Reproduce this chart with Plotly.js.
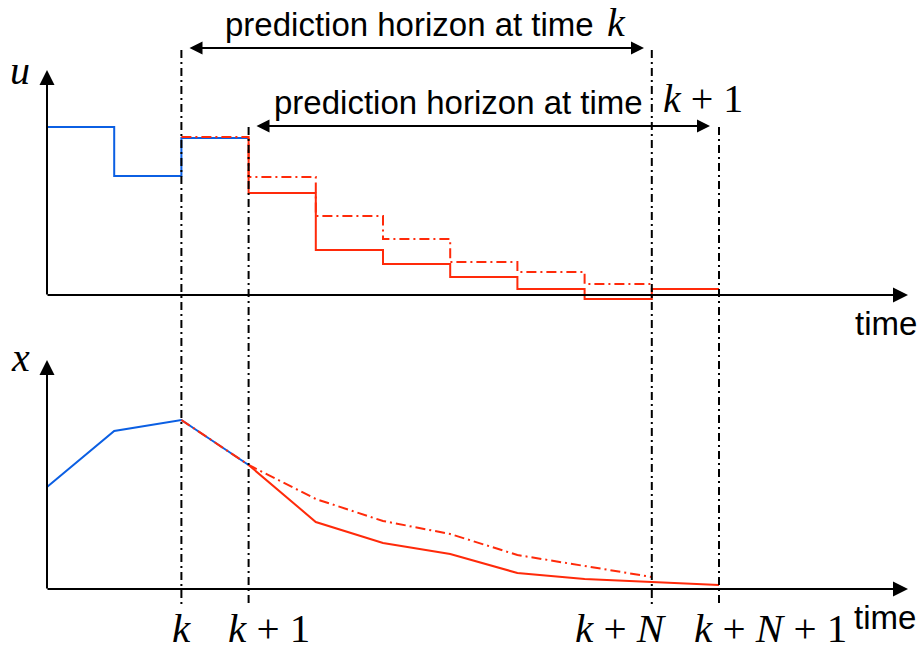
<!DOCTYPE html>
<html>
<head>
<meta charset="utf-8">
<script src="https://cdn.plot.ly/plotly-3.0.1.min.js"></script>
<style>html,body{margin:0;padding:0;background:#fff}#chart{width:918px;height:650px}</style>
</head>
<body>
<div id="chart"></div>
<script>
// ---- data (time index: k = 2) ----
const uAppliedStart = [0, 1, 2];
const uApplied = [16.8, 11.9, 15.7];            // applied input (blue)
const uPredKStart = [2, 3, 4, 5, 6, 7, 8];
const uPredK = [15.8, 11.8, 7.9, 5.6, 3.3, 2.3, 1.1];          // prediction at time k (dash-dot)
const uPredK1Start = [3, 4, 5, 6, 7, 8, 9];
const uPredK1 = [10.2, 4.5, 3.1, 1.8, 0.6, -0.4, 0.6];         // prediction at time k+1 (solid)

const xPastT = [0, 1, 2, 3];
const xPast = [10.2, 15.8, 16.9, 12.4];                        // measured state (blue)
const xPredKT = [2, 3, 4, 5, 6, 7, 8, 9];
const xPredK = [16.9, 12.4, 9.0, 6.8, 5.5, 3.4, 2.3, 1.2];     // prediction at time k
const xPredK1T = [3, 4, 5, 6, 7, 8, 9, 10];
const xPredK1 = [12.4, 6.7, 4.6, 3.5, 1.6, 1.0, 0.7, 0.4];     // prediction at time k+1

const markTimes = [2, 3, 9, 10];
const markLabels = ['<i>k</i>', '<i>k</i> + 1', '<i>k</i> + <i>N</i>', '<i>k</i> + <i>N</i> + 1'];

// ---- helpers ----
function stepPoints(starts, vals) {
  const xs = [], ys = [];
  for (let i = 0; i < starts.length; i++) { xs.push(starts[i]); ys.push(vals[i]); }
  xs.push(starts[starts.length - 1] + 1); ys.push(vals[vals.length - 1]);
  return {x: xs, y: ys};
}
const W = 918, H = 650;
const PX = p => p / W, PY = p => 1 - p / H;

const BLUE = '#0b5fe3', RED = '#ff2a0a';
const sA = stepPoints(uAppliedStart, uApplied);
const sK = stepPoints(uPredKStart, uPredK);
const sK1 = stepPoints(uPredK1Start, uPredK1);
sK1.x.unshift(uPredK1Start[0]); sK1.y.unshift(uApplied[uApplied.length - 1]);

const traces = [
  {x: sK1.x, y: sK1.y, xaxis: 'x', yaxis: 'y', mode: 'lines', line: {shape: 'hv', color: RED, width: 2}},
  {x: sA.x, y: sA.y, xaxis: 'x', yaxis: 'y', mode: 'lines', line: {shape: 'hv', color: BLUE, width: 2}},
  {x: sK.x, y: sK.y, xaxis: 'x', yaxis: 'y', mode: 'lines', line: {shape: 'hv', color: RED, width: 2, dash: '10px,4px,2px,4px'}},
  {x: xPredK1T, y: xPredK1, xaxis: 'x', yaxis: 'y2', mode: 'lines', line: {color: RED, width: 2}},
  {x: xPastT, y: xPast, xaxis: 'x', yaxis: 'y2', mode: 'lines', line: {color: BLUE, width: 2}},
  {x: xPredKT, y: xPredK, xaxis: 'x', yaxis: 'y2', mode: 'lines', line: {color: RED, width: 2, dash: '10px,4px,2px,4px'}}
];

const s = (719 - 47) / 10;
const xr = [-47 / s, (W - 47) / s];

const vTop = [50, 127, 50, 127];
const shapes = markTimes.map((t, i) => ({
  type: 'line', xref: 'x', yref: 'paper', x0: t, x1: t, y0: PY(vTop[i]), y1: PY(607),
  line: {color: '#000', width: 2, dash: '8px,4px,2px,4px'}
}));

const serif = {family: 'Liberation Serif, DejaVu Serif, serif', size: 40, color: '#000'};
const serifB = {family: 'Liberation Serif, DejaVu Serif, serif', size: 41, color: '#000'};
const sans = {family: 'Liberation Sans, Arial, sans-serif', size: 33, color: '#000'};

function arrow(hx, hy, tx, ty, side, size) {
  return {xref: 'paper', yref: 'paper', x: PX(hx), y: PY(hy), ax: tx - hx, ay: ty - hy,
    axref: 'pixel', ayref: 'pixel', text: '', showarrow: true, arrowhead: 2, arrowsize: size,
    arrowwidth: 2, arrowcolor: '#000', arrowside: side, standoff: 0, startstandoff: 0};
}
const annotations = [
  arrow(47, 70, 47, 296, 'end', 1.5),
  arrow(908, 295, 46, 295, 'end', 1.5),
  arrow(47, 360, 47, 590, 'end', 1.5),
  arrow(908, 589, 46, 589, 'end', 1.5),
  arrow(644, 48, 188, 48, 'end+start', 1.3),
  arrow(710, 126, 255, 126, 'end+start', 1.3),
  {xref: 'paper', yref: 'paper', x: PX(223), y: PY(24), xanchor: 'left', yanchor: 'middle', showarrow: false,
   text: 'prediction horizon at time', font: sans},
  {xref: 'paper', yref: 'paper', x: PX(616), y: PY(23), xanchor: 'center', yanchor: 'middle', showarrow: false,
   text: '<i>k</i>', font: serif},
  {xref: 'paper', yref: 'paper', x: PX(272), y: PY(102), xanchor: 'left', yanchor: 'middle', showarrow: false,
   text: 'prediction horizon at time', font: sans},
  {xref: 'paper', yref: 'paper', x: PX(703), y: PY(99), xanchor: 'center', yanchor: 'middle', showarrow: false,
   text: '<i>k</i> + 1', font: serif},
  {xref: 'paper', yref: 'paper', x: PX(20), y: PY(70), xanchor: 'center', yanchor: 'middle', showarrow: false,
   text: '<i>u</i>', font: serif},
  {xref: 'paper', yref: 'paper', x: PX(20), y: PY(357), xanchor: 'center', yanchor: 'middle', showarrow: false,
   text: '<i>x</i>', font: serif},
  {xref: 'paper', yref: 'paper', x: PX(853), y: PY(323), xanchor: 'left', yanchor: 'middle', showarrow: false,
   text: 'time', font: sans},
  {xref: 'paper', yref: 'paper', x: PX(852), y: PY(617), xanchor: 'left', yanchor: 'middle', showarrow: false,
   text: 'time', font: sans}
];
const labelCenters = [181, 269, 621, 770];
markTimes.forEach((t, i) => {
  annotations.push({xref: 'paper', yref: 'paper', x: PX(labelCenters[i]), y: PY(628), xanchor: 'center', yanchor: 'middle',
    showarrow: false, text: markLabels[i], font: serifB});
});

const axisOff = {showgrid: false, zeroline: false, showticklabels: false, ticks: '', showline: false, fixedrange: true};
const layout = {
  width: W, height: H, margin: {l: 0, r: 0, t: 0, b: 0},
  paper_bgcolor: '#fff', plot_bgcolor: '#fff', showlegend: false,
  xaxis: Object.assign({range: xr}, axisOff),
  yaxis: Object.assign({domain: [0.5, 1], range: [-3, 29.5]}, axisOff),
  yaxis2: Object.assign({domain: [0, 0.5], range: [-6.1, 26.4]}, axisOff),
  shapes: shapes, annotations: annotations
};
Plotly.newPlot('chart', traces, layout, {staticPlot: true, displayModeBar: false});
</script>
</body>
</html>
